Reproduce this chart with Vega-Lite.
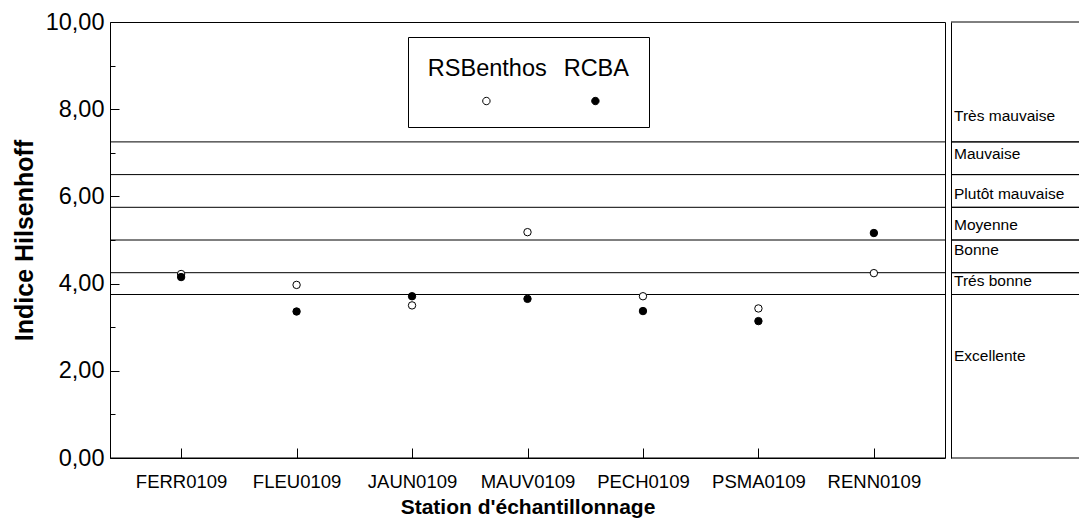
{
  "$schema": "https://vega.github.io/schema/vega-lite/v6.json",
  "background": "white",
  "padding": {"left": 11, "top": 9, "right": 0, "bottom": 0},
  "datasets": {
    "obs": [
      {"station": "FERR0109", "serie": "RSBenthos", "indice": 4.22},
      {"station": "FLEU0109", "serie": "RSBenthos", "indice": 3.97},
      {"station": "JAUN0109", "serie": "RSBenthos", "indice": 3.50},
      {"station": "MAUV0109", "serie": "RSBenthos", "indice": 5.18},
      {"station": "PECH0109", "serie": "RSBenthos", "indice": 3.71},
      {"station": "PSMA0109", "serie": "RSBenthos", "indice": 3.43},
      {"station": "RENN0109", "serie": "RSBenthos", "indice": 4.24},
      {"station": "FERR0109", "serie": "RCBA", "indice": 4.15},
      {"station": "FLEU0109", "serie": "RCBA", "indice": 3.36},
      {"station": "JAUN0109", "serie": "RCBA", "indice": 3.71},
      {"station": "MAUV0109", "serie": "RCBA", "indice": 3.65},
      {"station": "PECH0109", "serie": "RCBA", "indice": 3.37},
      {"station": "PSMA0109", "serie": "RCBA", "indice": 3.14},
      {"station": "RENN0109", "serie": "RCBA", "indice": 5.16}
    ],
    "classes": [
      {"classe": "Excellente", "min": 0, "max": 3.75, "label_value": 2.35},
      {"classe": "Trés bonne", "min": 3.75, "max": 4.25, "label_value": 4.06},
      {"classe": "Bonne", "min": 4.25, "max": 5.0, "label_value": 4.76},
      {"classe": "Moyenne", "min": 5.0, "max": 5.75, "label_value": 5.34},
      {"classe": "Plutôt mauvaise", "min": 5.75, "max": 6.5, "label_value": 6.06},
      {"classe": "Mauvaise", "min": 6.5, "max": 7.25, "label_value": 6.98},
      {"classe": "Très mauvaise", "min": 7.25, "max": 10, "label_value": 7.85}
    ]
  },
  "spacing": 4,
  "hconcat": [
    {
      "width": 835,
      "height": 436,
      "layer": [
        {
          "data": {"name": "classes"},
          "mark": {"type": "rule", "color": "black", "strokeWidth": 1},
          "encoding": {
            "y": {
              "field": "min", "type": "quantitative",
              "scale": {"domain": [0, 10], "nice": false},
              "title": "Indice Hilsenhoff",
              "axis": {
                "values": [0, 1, 2, 3, 4, 5, 6, 7, 8, 9, 10],
                "format": ".2f",
                "labelExpr": "datum.value % 2 === 0 ? datum.label : ''",
                "tickSize": {"condition": {"test": "datum.value % 2 === 0", "value": -9}, "value": -5},
                "labelPadding": 15,
                "labelFontSize": 23.5,
                "titleFontSize": 25,
                "titleFontWeight": "bold",
                "titlePadding": 8
              }
            }
          }
        },
        {
          "data": {"name": "obs"},
          "mark": {"type": "point", "shape": "circle", "filled": true, "stroke": "black", "strokeWidth": 1, "size": 55, "opacity": 1},
          "encoding": {
            "x": {
              "field": "station", "type": "nominal", "sort": null,
              "scale": {"type": "point", "padding": 0.616},
              "title": "Station d'échantillonnage",
              "axis": {
                "labelAngle": 0,
                "tickSize": -10,
                "labelPadding": 24,
                "labelFontSize": 18.5,
                "titleFontSize": 21,
                "titleFontWeight": "bold",
                "titlePadding": 6
              }
            },
            "y": {
              "field": "indice", "type": "quantitative",
              "scale": {"domain": [0, 10], "nice": false},
              "title": "Indice Hilsenhoff",
              "axis": {
                "values": [0, 1, 2, 3, 4, 5, 6, 7, 8, 9, 10],
                "format": ".2f",
                "labelExpr": "datum.value % 2 === 0 ? datum.label : ''",
                "tickSize": {"condition": {"test": "datum.value % 2 === 0", "value": -9}, "value": -5},
                "labelPadding": 15,
                "labelFontSize": 23.5,
                "titleFontSize": 25,
                "titleFontWeight": "bold",
                "titlePadding": 8
              }
            },
            "fill": {
              "field": "serie", "type": "nominal",
              "scale": {"domain": ["RSBenthos", "RCBA"], "range": ["white", "black"]},
              "legend": {
                "orient": "none",
                "legendX": 298,
                "legendY": 15,
                "direction": "horizontal",
                "title": "\u00a0",
                "titleOrient": "left",
                "titleFontSize": 1,
                "titlePadding": 10,
                "strokeColor": "black",
                "fillColor": "white",
                "padding": 20,
                "labelFontSize": 23.5,
                "labelColor": "black",
                "labelAlign": "center",
                "labelOffset": -10.85,
                "labelLimit": 400,
                "symbolOffset": 36.65,
                "symbolType": "M -1,8.63 A 1,1 0 1,1 1,8.63 A 1,1 0 1,1 -1,8.63 Z",
                "symbolSize": 55,
                "symbolStrokeColor": "black",
                "symbolStrokeWidth": 1,
                "columnPadding": 0
              }
            }
          }
        }
      ]
    },
    {
      "width": 128,
      "height": 436,
      "view": {"stroke": null},
      "data": {"name": "classes"},
      "layer": [
        {
          "mark": {"type": "rule", "color": "black", "strokeWidth": 1},
          "encoding": {
            "y": {"field": "min", "type": "quantitative", "scale": {"domain": [0, 10], "nice": false}, "title": null,
              "axis": {"labels": false, "ticks": false, "domain": true, "domainColor": "black", "title": null}}
          }
        },
        {
          "mark": {"type": "rule", "color": "black", "strokeWidth": 1},
          "encoding": {
            "y": {"field": "max", "type": "quantitative", "scale": {"domain": [0, 10], "nice": false}, "title": null,
              "axis": {"labels": false, "ticks": false, "domain": true, "domainColor": "black", "title": null}}
          }
        },
        {
          "mark": {"type": "text", "align": "left", "baseline": "middle", "fontSize": 15.5, "color": "black", "dx": 3},
          "encoding": {
            "x": {"value": 0},
            "y": {"field": "label_value", "type": "quantitative", "scale": {"domain": [0, 10], "nice": false}, "title": null,
              "axis": {"labels": false, "ticks": false, "domain": true, "domainColor": "black", "title": null}},
            "text": {"field": "classe", "type": "nominal"}
          }
        }
      ]
    }
  ],
  "config": {
    "font": "Liberation Sans",
    "view": {"stroke": "black", "strokeWidth": 1},
    "axis": {"grid": false, "domain": false, "labelColor": "black", "titleColor": "black", "tickColor": "black", "labelFont": "Liberation Sans", "titleFont": "Liberation Sans"},
    "legend": {"labelFont": "Liberation Sans"},
    "text": {"font": "Liberation Sans"},
    "locale": {"number": {"decimal": ",", "thousands": " ", "grouping": [3], "currency": ["", " €"]}}
  }
}
